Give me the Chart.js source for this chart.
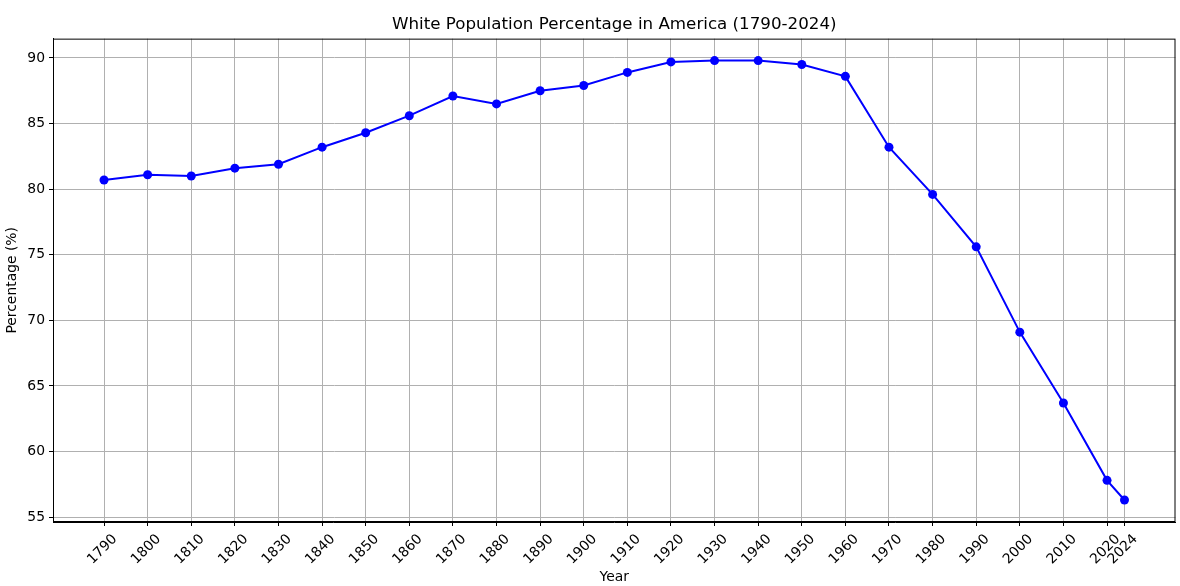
<!DOCTYPE html>
<html>
<head>
<meta charset="utf-8">
<script src="https://cdn.jsdelivr.net/npm/chart.js@4"></script>
<style>
  html, body { margin: 0; padding: 0; background: #fff; }
  #wrap { width: 1180px; height: 586px; }
</style>
</head>
<body>
<div id="wrap"><canvas id="popChart"></canvas></div>
<script>
'use strict';

const years = [1790, 1800, 1810, 1820, 1830, 1840, 1850, 1860, 1870, 1880,
               1890, 1900, 1910, 1920, 1930, 1940, 1950, 1960, 1970, 1980,
               1990, 2000, 2010, 2020, 2024];
const whitePct = [80.7, 81.1, 81.0, 81.6, 81.9, 83.2, 84.3, 85.6, 87.1, 86.5,
                  87.5, 87.9, 88.9, 89.7, 89.8, 89.8, 89.5, 88.6, 83.2, 79.6,
                  75.6, 69.1, 63.7, 57.8, 56.3];
const yTicks = [55, 60, 65, 70, 75, 80, 85, 90];

const FONT = 'DejaVu Sans';

// black frame round the plot area, like a matplotlib axes box
const frame = {
    id: 'frame',
    afterDraw(c) {
        const a = c.chartArea, ctx = c.ctx;
        ctx.save();
        ctx.strokeStyle = '#000';
        ctx.lineWidth = 1;
        ctx.strokeRect(a.left + 0.5, a.top + 0.5, a.right - a.left - 1, a.bottom - a.top - 1);
        ctx.restore();
    }
};

new Chart(document.getElementById('popChart').getContext('2d'), {
    type: 'line',
    data: {
        datasets: [{
            data: years.map((y, i) => ({ x: y, y: whitePct[i] })),
            borderColor: '#0000ff',
            borderWidth: 2,
            pointRadius: 4.5,
            pointBackgroundColor: '#0000ff',
            pointBorderWidth: 0,
            tension: 0
        }]
    },
    options: {
        animation: false,
        responsive: true,
        maintainAspectRatio: false,
        layout: { padding: { left: 0, right: 4, top: 0, bottom: 0 } },
        plugins: {
            legend: { display: false },
            tooltip: { enabled: false },
            title: {
                display: true,
                fullSize: false,   // centre over the plot area, not the canvas
                text: 'White Population Percentage in America (1790-2024)',
                color: '#000',
                font: { family: FONT, size: 16.7, weight: 'normal' },
                padding: { top: 15, bottom: 3.6 }
            }
        },
        scales: {
            x: {
                type: 'linear',
                min: 1778.3, max: 2035.7,
                afterBuildTicks: s => { s.ticks = years.map(v => ({ value: v })); },
                afterFit: s => { s.height = 64; },
                ticks: {
                    autoSkip: false,
                    minRotation: 45, maxRotation: 45,
                    color: '#000',
                    font: { family: FONT, size: 13.9 },
                    padding: 5,
                    labelOffset: 11,
                    callback: v => String(v)
                },
                grid: { color: '#b0b0b0', lineWidth: 1, tickColor: '#000', tickLength: 4 },
                border: { color: '#000' },
                title: {
                    display: true, text: 'Year', color: '#000',
                    font: { family: FONT, size: 13.9 },
                    padding: { top: 0, bottom: 0 }
                }
            },
            y: {
                min: 54.625, max: 91.475,
                afterBuildTicks: s => { s.ticks = yTicks.map(v => ({ value: v })); },
                afterFit: s => { s.width = 53; },
                ticks: {
                    color: '#000',
                    font: { family: FONT, size: 13.9 },
                    padding: 4
                },
                grid: { color: '#b0b0b0', lineWidth: 1, tickColor: '#000', tickLength: 4 },
                border: { color: '#000' },
                title: {
                    display: true, text: 'Percentage (%)', color: '#000',
                    font: { family: FONT, size: 13.9 },
                    padding: { top: 4, bottom: 0 }
                }
            }
        }
    },
    plugins: [frame]
});
</script>
</body>
</html>
